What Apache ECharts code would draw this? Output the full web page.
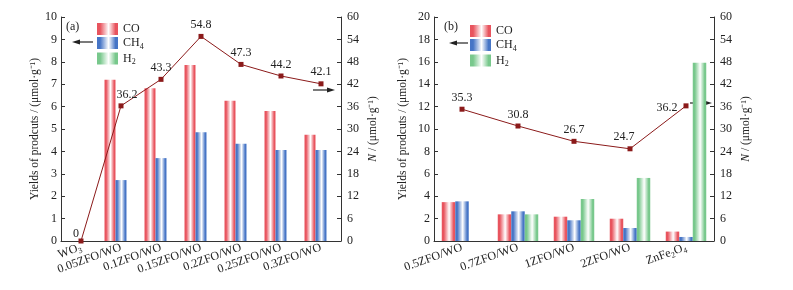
<!DOCTYPE html>
<html>
<head>
<meta charset="utf-8">
<script src="https://cdn.jsdelivr.net/npm/echarts@6/dist/echarts.min.js"></script>
<style>
  html, body { margin: 0; padding: 0; background: #fff; }
  #main { width: 793px; height: 290px; }
</style>
</head>
<body>
<div id="main"></div>
<script>
// (a) ZFO loading series
const catsA = ['WO{s|3}', '0.05ZFO/WO', '0.1ZFO/WO', '0.15ZFO/WO', '0.2ZFO/WO', '0.25ZFO/WO', '0.3ZFO/WO'];
const coA = [0, 7.2, 6.82, 7.86, 6.26, 5.8, 4.74];
const ch4A = [0, 2.72, 3.7, 4.85, 4.34, 4.06, 4.06];
const h2A = [0, 0, 0, 0, 0, 0, 0];
const nA = [0, 36.2, 43.3, 54.8, 47.3, 44.2, 42.1];

// (b) higher loadings and pure ZnFe2O4
const catsB = ['0.5ZFO/WO', '0.7ZFO/WO', '1ZFO/WO', '2ZFO/WO', 'ZnFe{s|2}O{s|4}'];
const coB = [3.47, 2.38, 2.17, 1.99, 0.84];
const ch4B = [3.54, 2.65, 1.85, 1.16, 0.36];
const h2B = [0, 2.38, 3.75, 5.63, 15.92];
const nB = [35.3, 30.8, 26.7, 24.7, 36.2];

const FONT = 'Liberation Serif';
const stripe = (c) => ({
  type: 'linear', x: 0, y: 0, x2: 1, y2: 0,
  colorStops: [
    { offset: 0, color: c },
    { offset: 0.15, color: c },
    { offset: 0.55, color: '#ffffff' },
    { offset: 0.88, color: c },
    { offset: 1, color: c },
  ],
});
const RED = '#e8545e', BLUE = '#4675c6', GREEN = '#78c88c', LINE = '#8b1a1a';

const chart = echarts.init(document.getElementById('main'));

const sub = { fontSize: 8, fontFamily: FONT, color: '#222', padding: [7, 0, 0, 0] };
const yName = {
  n: { fontFamily: FONT, fontSize: 11.5, fontStyle: 'italic', color: '#222' },
  t: { fontFamily: FONT, fontSize: 11.5, color: '#222' },
};

function xAxis(idx, cats) {
  return {
    type: 'category', gridIndex: idx, data: cats,
    axisLine: { lineStyle: { color: '#333', width: 1 } },
    axisTick: { show: false },
    axisLabel: {
      rotate: 20, margin: 6, fontFamily: FONT, fontSize: 12, color: '#222', interval: 0,
      rich: { s: sub },
    },
  };
}
function yLeft(idx, max, interval, gap) {
  return {
    type: 'value', gridIndex: idx, min: 0, max: max, interval: interval,
    name: 'Yields of prodcuts / (μmol·g⁻¹)', nameLocation: 'middle', nameRotate: 90, nameGap: gap,
    nameTextStyle: { fontFamily: FONT, fontSize: 11.5, color: '#222' },
    axisLine: { show: true, lineStyle: { color: '#333' } },
    axisTick: { show: true, inside: true, length: 4, lineStyle: { color: '#333' } },
    axisLabel: { fontFamily: FONT, fontSize: 12, color: '#222', margin: 4 },
    splitLine: { show: false },
  };
}
function yRight(idx, gap) {
  return {
    type: 'value', gridIndex: idx, position: 'right', min: 0, max: 60, interval: 6,
    name: '{n|N} {t|/ (μmol·g⁻¹)}', nameLocation: 'middle', nameRotate: 90, nameGap: gap,
    nameTextStyle: { rich: yName },
    axisLine: { show: true, lineStyle: { color: '#333' } },
    axisTick: { show: true, inside: true, length: 4, lineStyle: { color: '#333' } },
    axisLabel: { fontFamily: FONT, fontSize: 12, color: '#222', margin: 6 },
    splitLine: { show: false },
  };
}
function bars(xi, yi, name, data, color, width) {
  return {
    type: 'bar', name: name, xAxisIndex: xi, yAxisIndex: yi, data: data,
    barWidth: width, barGap: '0%',
    itemStyle: { color: stripe(color) },
    emphasis: { disabled: true },
  };
}
function line(xi, yi, data, labelOffsets) {
  return {
    type: 'line', xAxisIndex: xi, yAxisIndex: yi, z: 5,
    data: data.map((v, i) => ({ value: v, label: { offset: labelOffsets[i] || [0, 0] } })),
    symbol: 'rect', symbolSize: 5,
    lineStyle: { color: LINE, width: 1 },
    itemStyle: { color: LINE },
    label: { show: true, position: 'top', fontFamily: FONT, fontSize: 12, color: '#222', distance: 3 },
  };
}

const legendText = {
  fontFamily: FONT, fontSize: 12, color: '#222',
  rich: { t: { fontFamily: FONT, fontSize: 12, color: '#222' }, s: sub },
};
const legendFmt = (n) => n === 'CO' ? '{t|CO}' : (n === 'CH4' ? '{t|CH}{s|4}' : '{t|H}{s|2}');
function legend(left, top) {
  return {
    orient: 'vertical', left: left, top: top, padding: 0, icon: 'rect',
    itemWidth: 21, itemHeight: 12, itemGap: 2,
    data: ['CO', 'CH4', 'H2'], formatter: legendFmt, textStyle: legendText, selectedMode: false,
  };
}

// arrow helper for the graphic layer
function arrow(x1, x2, y) {
  const dir = x2 > x1 ? 1 : -1;
  return [
    { type: 'line', shape: { x1: x1, y1: y, x2: x2 - dir * 6, y2: y }, style: { stroke: '#222', lineWidth: 1.2 } },
    { type: 'polygon', shape: { points: [[x2, y], [x2 - dir * 8, y - 2.5], [x2 - dir * 8, y + 2.5]] }, style: { fill: '#222' } },
  ];
}

chart.setOption({
  animation: false,
  textStyle: { fontFamily: FONT },
  grid: [
    { left: 61, right: 452, top: 17, bottom: 49 },
    { left: 434, right: 79, top: 17, bottom: 49 },
  ],
  legend: [legend(97, 23), legend(470, 25)],
  xAxis: [xAxis(0, catsA), xAxis(1, catsB)],
  yAxis: [yLeft(0, 10, 1, 20), yRight(0, 26), yLeft(1, 20, 2, 25), yRight(1, 26)],
  series: [
    bars(0, 0, 'CO', coA, RED, 11),
    bars(0, 0, 'CH4', ch4A, BLUE, 11),
    bars(0, 0, 'H2', h2A, GREEN, 11),
    line(0, 1, nA, [[-5, 4], [6, 0]]),
    bars(1, 2, 'CO', coB, RED, 13.5),
    bars(1, 2, 'CH4', ch4B, BLUE, 13.5),
    bars(1, 2, 'H2', h2B, GREEN, 13.5),
    line(1, 3, nB, [null, null, null, [-6, 0], [-19, 13]]),
  ],
  graphic: [
    { type: 'text', left: 66, top: 21, style: { text: '(a)', font: '12px "Liberation Serif"', fill: '#222' } },
    { type: 'text', left: 444, top: 21, style: { text: '(b)', font: '12px "Liberation Serif"', fill: '#222' } },
    ...arrow(93, 72, 42),
    ...arrow(313, 335, 90),
    ...arrow(468, 449, 43),
    ...arrow(690, 712, 103),
  ],
});
</script>
</body>
</html>
